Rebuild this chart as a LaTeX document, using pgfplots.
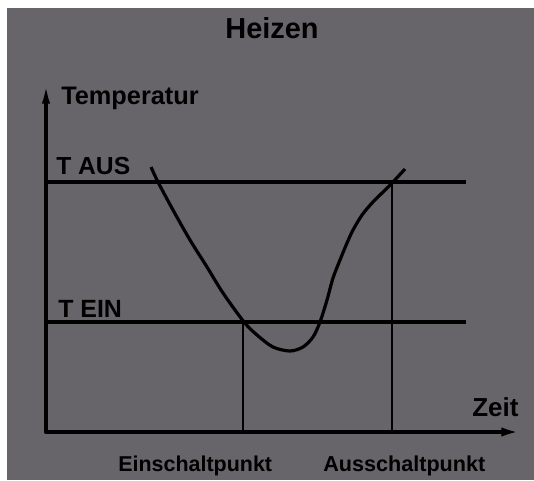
\documentclass[border=0pt]{standalone}
\usepackage{pgfplots}
\pgfplotsset{compat=1.18}
\usetikzlibrary{arrows.meta}
\usepackage{fontspec}
\setmainfont{Liberation Sans}
\definecolor{bg}{RGB}{103,101,106}
\begin{document}
\begin{tikzpicture}
\fill[white] (-34.5pt,-36pt) rectangle (366pt,324pt);
\fill[bg] (-29.25pt,-36pt) rectangle (366pt,318pt);
\begin{axis}[
  x=0.75pt, y=0.75pt,
  xmin=0, xmax=474, ymin=0, ymax=351,
  hide axis,
  clip=false,
  every axis title shift=0pt,
  title={Heizen},
  title style={font=\bfseries\fontsize{21.7}{26}\selectfont, at={(axis cs:226,394)}, anchor=base, inner sep=0pt},
]
% axes with arrows
\addplot[black, line width=2.7pt, line cap=round, no markers, -{Latex[length=14pt,width=7pt]}] coordinates {(0,0) (474,0)};
\addplot[black, line width=2.7pt, line cap=round, no markers, -{Latex[length=17pt,width=6pt]}] coordinates {(0,0) (0,351)};
% threshold lines
\addplot[black, line width=2.3pt, no markers] coordinates {(0,250) (420,250)};
\addplot[black, line width=2.3pt, no markers] coordinates {(0,110) (420,110)};
% switching points
\addplot[black, line width=1.7pt, no markers] coordinates {(197,0) (197,110)};
\addplot[black, line width=1.7pt, no markers] coordinates {(346,0) (346,250)};
% temperature curve
\addplot[black, line width=2.4pt, no markers, smooth, tension=0.5] coordinates {
(105,265) (112,250) (127,222) (144,192) (161,165) (177,139) (198,110)
(211,97) (227,85) (244,81) (257,85) (267,95) (274,110) (281,132)
(287,154) (294,172) (301,189) (307,202) (316,217) (326,229) (336,239)
(346,249) (359,263)};
\node[anchor=base west, inner sep=0pt, font=\bfseries\fontsize{19}{23}\selectfont] at (axis cs:15,328) {Temperatur};
\node[anchor=base west, inner sep=0pt, font=\bfseries\fontsize{19.5}{23}\selectfont] at (axis cs:426,16) {Zeit};
\node[anchor=base west, inner sep=0pt, font=\bfseries\fontsize{18.5}{22}\selectfont] at (axis cs:10,258) {T AUS};
\node[anchor=base west, inner sep=0pt, font=\bfseries\fontsize{18.7}{22}\selectfont] at (axis cs:12,115) {T EIN};
\node[anchor=base west, inner sep=0pt, font=\bfseries\fontsize{16.1}{19}\selectfont] at (axis cs:72,-39) {Einschaltpunkt};
\node[anchor=base west, inner sep=0pt, font=\bfseries\fontsize{16.2}{19}\selectfont] at (axis cs:277,-39) {Ausschaltpunkt};
\end{axis}
\end{tikzpicture}
\end{document}
